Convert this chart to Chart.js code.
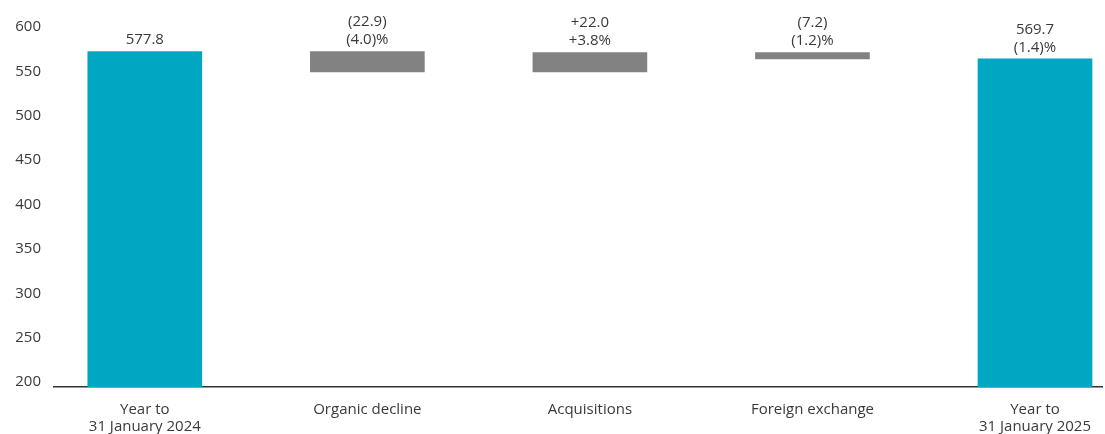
<!DOCTYPE html>
<html>
<head>
<meta charset="utf-8">
<script src="https://cdn.jsdelivr.net/npm/chart.js@4.4.0/dist/chart.umd.min.js"></script>
<style>
  html, body { margin: 0; padding: 0; background: #fff; }
  #wrap { width: 1105px; height: 434px; position: relative; }
</style>
</head>
<body>
<div id="wrap"><canvas id="chart"></canvas></div>
<script>
// categories (multi-line labels)
const categories = [
    ['Year to', '31 January 2024'],
    ['Organic decline'],
    ['Acquisitions'],
    ['Foreign exchange'],
    ['Year to', '31 January 2025']
];
// waterfall bars: [start, end]
const barStart = [200, 554.9, 554.9, 569.7, 200];
const barEnd   = [577.8, 577.8, 576.9, 576.9, 569.7];
const valueLabels = ['577.8', '(22.9)', '+22.0', '(7.2)', '569.7'];
const pctLabels   = ['', '(4.0)%', '+3.8%', '(1.2)%', '(1.4)%'];
const barColors = ['#00a7c2', '#828282', '#828282', '#828282', '#00a7c2'];
const yTicks = [200, 250, 300, 350, 400, 450, 500, 550, 600];

const textColor = '#3a3a3a';
const fontFamily = '"Open Sans", "Liberation Sans", sans-serif';

document.addEventListener('DOMContentLoaded', function() {
    const barLabels = {
        id: 'barLabels',
        afterDatasetsDraw(chart) {
            const c = chart.ctx;
            const meta = chart.getDatasetMeta(0);
            c.save();
            c.font = '15px ' + fontFamily;
            c.fillStyle = textColor;
            c.textAlign = 'center';
            c.textBaseline = 'bottom';
            meta.data.forEach((el, i) => {
                const top = Math.min(el.y, el.base);
                const lines = [valueLabels[i]];
                if (pctLabels[i]) lines.push(pctLabels[i]);
                let y = top - 4;
                for (let k = lines.length - 1; k >= 0; k--) {
                    c.fillText(lines[k], el.x, y);
                    y -= 18;
                }
            });
            c.restore();
        }
    };

    var ctx = document.getElementById('chart').getContext('2d');
    var myChart = new Chart(ctx, {
        type: 'bar',
        data: {
            datasets: [{
                data: categories.map((c, i) => ({ x: i, y: [barStart[i], barEnd[i]] })),
                backgroundColor: barColors,
                barThickness: 114,
                borderWidth: 0
            }]
        },
        options: {
            responsive: true,
            maintainAspectRatio: false,
            animation: false,
            layout: { padding: { top: 32, right: 0, left: 0, bottom: 0 } },
            plugins: {
                legend: { display: false },
                tooltip: { enabled: false }
            },
            scales: {
                x: {
                    type: 'linear',
                    offset: false,
                    min: -0.408,
                    max: 4.305,
                    grid: { display: false, drawTicks: false },
                    border: { display: true, color: '#333333', width: 1.5 },
                    afterFit: s => { s.height = 47; },
                    afterBuildTicks: s => { s.ticks = categories.map((c, i) => ({ value: i })); },
                    ticks: {
                        padding: 14,
                        autoSkip: false,
                        maxRotation: 0,
                        color: textColor,
                        font: { family: fontFamily, size: 15, lineHeight: 1.13 },
                        callback: v => categories[v]
                    }
                },
                y: {
                    min: 200,
                    max: 600,
                    grid: { display: false, drawTicks: false },
                    border: { display: false },
                    afterFit: s => { s.width = 54; },
                    afterBuildTicks: s => { s.ticks = yTicks.map(v => ({ value: v })); },
                    ticks: {
                        padding: 13,
                        labelOffset: -5,
                        color: textColor,
                        font: { family: fontFamily, size: 15 }
                    }
                }
            }
        },
        plugins: [barLabels]
    });
});
</script>
</body>
</html>
